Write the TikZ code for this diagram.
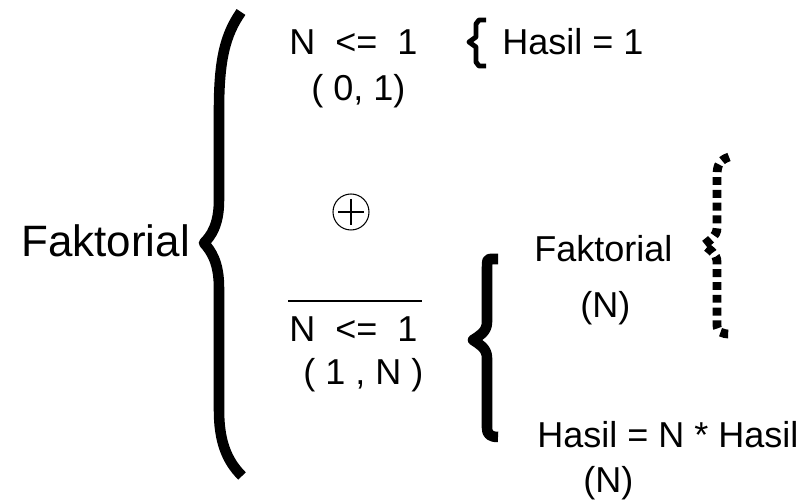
\documentclass[tikz,border=0pt]{standalone}
\usepackage{fontspec}
\setmainfont{Liberation Sans}
\usetikzlibrary{positioning}
\tikzset{
  label txt/.style={
    anchor=base west,inner sep=0pt,
    font=\fontsize{20.5}{24}\selectfont
  },
  head txt/.style={
    label txt,font=\fontsize{25}{30}\selectfont
  },
  brace line/.style={
    line width=6pt,line join=round
  },
  small brace/.style={
    line width=2.8pt,line join=round
  },
  dash brace/.style={
    line width=5pt,dash pattern=on 4.5pt off 2.8pt
  }
}

\begin{document}
\begin{tikzpicture}[x=0.02cm,y=-0.02cm]
  \useasboundingbox (0,0) rectangle (812,502);

  % kiri
  \node[head txt] (fakt) at (21,257) {Faktorial};
  \draw[brace line] (241,12) .. controls (225,35) and (219,60) .. (219,110)
    -- (219,200) .. controls (219,225) and (211,236) .. (204,243)
    .. controls (211,251) and (219,262) .. (219,288)
    -- (219,410) .. controls (219,440) and (226,460) .. (242,476);

  % kasus N <= 1
  \node[label txt] (cond) at (289,55) {N\ \ <=\ \ 1};
  \node[label txt] (rng) at (311,101) {( 0, 1)};
  \draw[small brace] (486,20) -- (479,20) -- (476,24) -- (476,37)
    -- (469,42) -- (476,47) -- (476,62) -- (479,66) -- (486,66);
  \node[label txt] (base) at (502,55) {Hasil = 1};

  \coordinate (plus) at (351,212);
  \draw[semithick] (plus) circle [radius=18];
  \draw[semithick] (plus) +(0,-13) -- +(0,13) +(-13,0) -- +(13,0);

  % kasus bukan N <= 1
  \node[label txt] (ncond) at (289,342) {N\ \ <=\ \ 1};
  \draw[line width=1.5pt] (288,301) -- (422,301);
  \node[label txt] (nrng) at (303,385) {( 1 , N )};
  \draw[brace line] (498,259) -- (490,259) .. controls (487,259) and (487,262) .. (487,268)
    -- (487,322) .. controls (487,332) and (479,336) .. (473,340)
    .. controls (479,344) and (487,348) .. (487,358)
    -- (487,428) .. controls (487,434) and (490,437) .. (498,437);

  \node[label txt] (rec) at (534,262) {Faktorial};
  \node[label txt] (recarg) at (580,318) {(N)};
  \draw[dash brace] (729,157) .. controls (720,160) and (717,165) .. (717,175)
    -- (717,228) .. controls (717,236) and (710,240) .. (704,245)
    .. controls (710,250) and (717,254) .. (717,262)
    -- (717,325) .. controls (717,332) and (722,334) .. (730,334);

  \node[label txt] (upd) at (537,448) {Hasil = N * Hasil};
  \node[label txt] (updarg) at (583,493) {(N)};
\end{tikzpicture}
\end{document}
